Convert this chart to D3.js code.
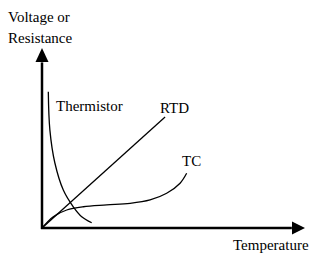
<!DOCTYPE html>
<html><head><meta charset="utf-8">
<script src="https://cdn.jsdelivr.net/npm/d3@7"></script>
<style>body{margin:0;background:#fff}</style>
</head><body>
<script>
const axisLabels = ["Voltage or", "Resistance", "Temperature"];
const seriesNames = ["Thermistor", "RTD", "TC"];
const rtd = [[0,0],[46.8,61.7]];
const thermistor = [[2.4,75.7],[3.0,54.4],[4.9,36.1],[8.1,21.1],[11.9,11.8],[15.1,6.3],[18.9,2.9]];
const tc = [[0,0],[4.3,6.3],[9.4,10],[15.7,11.8],[24.6,12.8],[33.5,13.7],[41.1,15.6],[47.4,19.3],[52.5,24.9],[55,30.4]];

const W=330,H=267;
const svg=d3.select("body").append("svg").attr("width",W).attr("height",H);
const x=d3.scaleLinear().domain([0,100]).range([42,305]);
const y=d3.scaleLinear().domain([0,100]).range([228,48]);

svg.append("line").attr("x1",x(0)).attr("y1",y(0)+1).attr("x2",x(0)).attr("y2",y(92)).attr("stroke","#000").attr("stroke-width",2.5);
svg.append("line").attr("x1",x(0)-1).attr("y1",y(0)).attr("x2",x(95)).attr("y2",y(0)).attr("stroke","#000").attr("stroke-width",2.5);
svg.append("path").attr("d",`M${x(0)},${y(100)} L${x(0)-6.5},${y(100)+14} L${x(0)+6.5},${y(100)+14} Z`).attr("fill","#000");
svg.append("path").attr("d",`M${x(100)},${y(0)} L${x(100)-13},${y(0)-6.5} L${x(100)-13},${y(0)+6.5} Z`).attr("fill","#000");

const line=d3.line().x(d=>x(d[0])).y(d=>y(d[1])).curve(d3.curveCatmullRom);
[rtd,thermistor,tc].forEach(s=>{
  svg.append("path").attr("d",line(s)).attr("fill","none").attr("stroke","#000").attr("stroke-width",1.3);
});

const t=(tx,ty,s)=>svg.append("text").attr("x",tx).attr("y",ty)
  .style("font-size","15px").style("font-family","'Liberation Serif', serif").text(s);
t(8,22,axisLabels[0]);
t(8,43,axisLabels[1]);
t(233,250,axisLabels[2]);
t(56,111,seriesNames[0]);
t(160,113,seriesNames[1]);
t(182,166,seriesNames[2]);
</script>
</body></html>
